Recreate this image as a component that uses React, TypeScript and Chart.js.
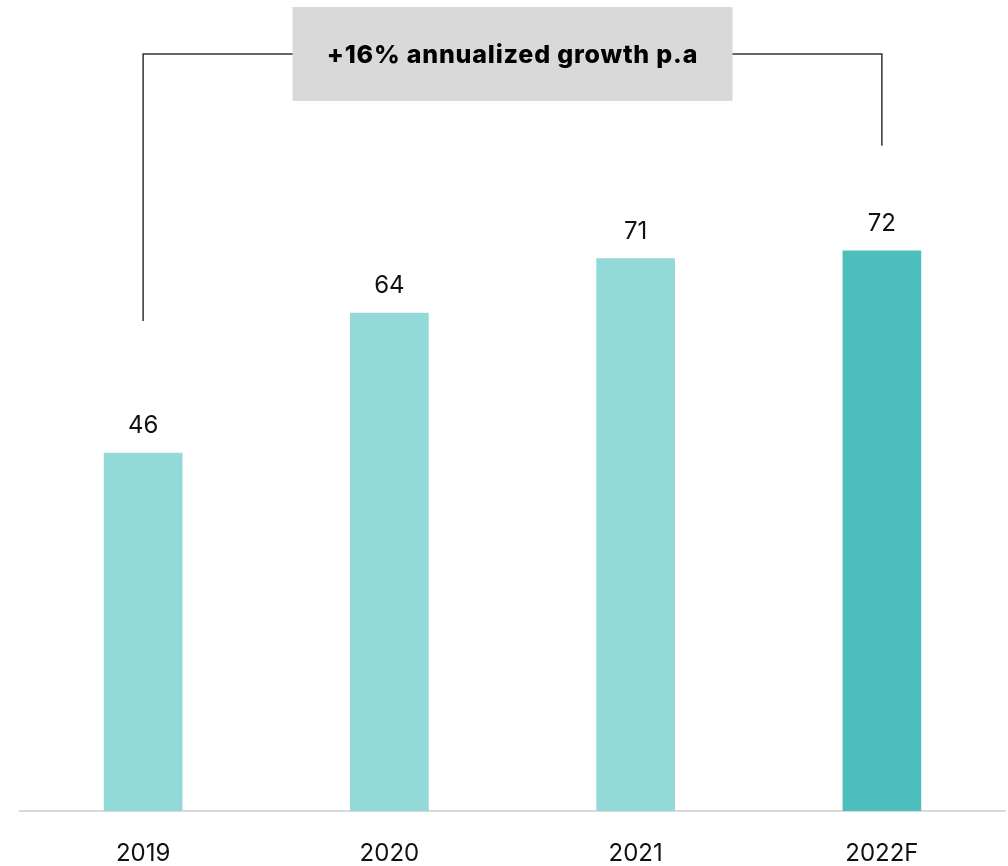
import React, { useEffect, useRef } from "react";
import { Chart, registerables } from "chart.js";

Chart.register(...registerables);

const categories = ["2019", "2020", "2021", "2022F"];
const values = [46, 64, 71, 72];
const barColors = ["#93D9D7", "#93D9D7", "#93D9D7", "#4CBFBD"];
const annotationText = "+16% annualized growth p.a";

const FONT = "Inter, 'Open Sans', sans-serif";

const valueLabels = {
  id: "valueLabels",
  afterDatasetsDraw(chart: any) {
    const ctx = chart.ctx;
    const meta = chart.getDatasetMeta(0);
    ctx.save();
    ctx.font = `400 24px ${FONT}`;
    ctx.fillStyle = "#111111";
    ctx.textAlign = "center";
    ctx.textBaseline = "alphabetic";
    meta.data.forEach((el: any, i: number) => {
      ctx.fillText(String(values[i]), el.x, el.y - 20);
    });
    ctx.restore();
  },
};

const growthBracket = {
  id: "growthBracket",
  afterDraw(chart: any) {
    const ctx = chart.ctx;
    const meta = chart.getDatasetMeta(0);
    const first = meta.data[0];
    const last = meta.data[meta.data.length - 1];
    const x1 = first.x;
    const x2 = last.x;
    const lineY = 54;
    const mid = (x1 + x2) / 2;
    const boxW = 440;
    const boxH = 94;
    ctx.save();
    ctx.strokeStyle = "#333333";
    ctx.lineWidth = 1.5;
    ctx.beginPath();
    ctx.moveTo(x1, first.y - 132);
    ctx.lineTo(x1, lineY);
    ctx.lineTo(x2, lineY);
    ctx.lineTo(x2, last.y - 105);
    ctx.stroke();
    ctx.fillStyle = "#D9D9D9";
    ctx.fillRect(mid - boxW / 2, lineY - 47, boxW, boxH);
    ctx.fillStyle = "#000000";
    ctx.font = `800 25px ${FONT}`;
    try {
      (ctx as any).letterSpacing = "0.8px";
    } catch (e) {}
    ctx.textAlign = "center";
    ctx.textBaseline = "middle";
    ctx.fillText(annotationText, mid, lineY + 1);
    ctx.restore();
  },
};

export default function App() {
  const ref = useRef<HTMLCanvasElement | null>(null);
  useEffect(() => {
    if (!ref.current) return;
    const chart = new Chart(ref.current, {
      type: "bar",
      data: {
        labels: categories,
        datasets: [
          {
            data: values,
            backgroundColor: barColors,
            barThickness: 78,
            borderWidth: 0,
          },
        ],
      },
      options: {
        animation: false,
        responsive: false,
        maintainAspectRatio: false,
        layout: { padding: { left: 20, right: 3, top: 33, bottom: 0 } },
        plugins: {
          legend: { display: false },
          tooltip: { enabled: false },
        },
        scales: {
          x: {
            grid: { display: false, drawTicks: false },
            border: { display: true, color: "#DADADA", width: 2 },
            ticks: {
              color: "#111111",
              font: { family: FONT, size: 24 },
              padding: 28,
            },
            afterFit(scale: any) {
              scale.height = 55;
            },
          },
          y: {
            display: false,
            min: 0,
            max: 100,
          },
        },
      },
      plugins: [valueLabels, growthBracket],
    });
    return () => chart.destroy();
  }, []);
  return (
    <div style={{ position: "absolute", left: 0, top: 0, width: 1008, height: 866, background: "#fff" }}>
      <canvas ref={ref} width={1008} height={866} style={{ display: "block" }} />
    </div>
  );
}
